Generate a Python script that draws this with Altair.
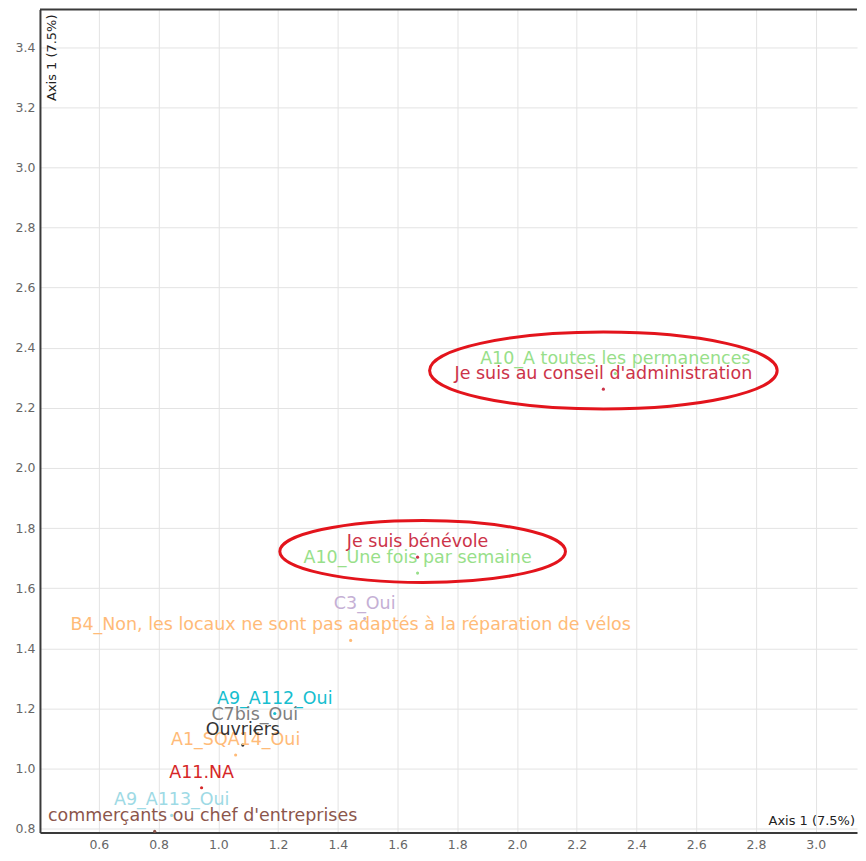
import altair as alt
import pandas as pd

# ---- data ----
labels = [
    "A10_A toutes les permanences",
    "Je suis au conseil d'administration",
    "Je suis bénévole",
    "A10_Une fois par semaine",
    "C3_Oui",
    "B4_Non, les locaux ne sont pas adaptés à la réparation de vélos",
    "A9_A112_Oui",
    "C7bis_Oui",
    "A1_SQA14_Oui",
    "Ouvriers",
    "A11.NA",
    "A9_A113_Oui",
    "commerçants ou chef d'entreprises",
]
xs = [2.329, 2.289, 1.667, 1.667, 1.490, 1.443, 1.189, 1.122, 1.058, 1.082, 0.944, 0.844, 0.787]
ys = [2.314, 2.262, 1.703, 1.650, 1.499, 1.426, 1.183, 1.127, 1.045, 1.078, 0.936, 0.844, 0.791]
colors = ["#98df8a", "#cc3349", "#cc3349", "#98df8a", "#c5b0d5", "#ffbb78",
          "#17becf", "#7f7f7f", "#ffbb78", "#333333", "#d62728", "#9edae5", "#8c564b"]
left_pinned = [False] * 12 + [True]

# highlighted groups (ellipse centres, in data units, and their pixel sizes)
ell_x = [2.289, 1.684]
ell_y = [2.324, 1.722]
ell_w = [348, 286]
ell_ratio = [0.221, 0.217]

x_ticks = [0.6, 0.8, 1.0, 1.2, 1.4, 1.6, 1.8, 2.0, 2.2, 2.4, 2.6, 2.8, 3.0]
y_ticks = [0.8, 1.0, 1.2, 1.4, 1.6, 1.8, 2.0, 2.2, 2.4, 2.6, 2.8, 3.0, 3.2, 3.4]
x_dom = [0.403, 3.138]
y_dom = [0.787, 3.525]
axis_title = "Axis 1 (7.5%)"

W, H = 818, 824
FONT = "DejaVu Sans"

df = pd.DataFrame({"label": labels, "x": xs, "y": ys, "color": colors, "pinned": left_pinned})

xs_enc = alt.X("x:Q", scale=alt.Scale(domain=x_dom, nice=False, zero=False),
               axis=alt.Axis(values=x_ticks, format=".1f", title=None, tickSize=0,
                             labelPadding=6, labelFontSize=12.5, labelColor="#666",
                             labelFont=FONT, domainColor="#3a3a3a", domainWidth=2,
                             gridColor="#e3e3e3", grid=True, minExtent=16, maxExtent=16))
ys_enc = alt.Y("y:Q", scale=alt.Scale(domain=y_dom, nice=False, zero=False),
               axis=alt.Axis(values=y_ticks, format=".1f", title=None, tickSize=0,
                             labelPadding=5, labelFontSize=12.5, labelColor="#666",
                             labelFont=FONT, domainColor="#3a3a3a", domainWidth=2,
                             gridColor="#e3e3e3", grid=True, minExtent=32, maxExtent=32))

base = alt.Chart(df)

points = base.mark_circle(size=10, opacity=1).encode(
    x=xs_enc, y=ys_enc, color=alt.Color("color:N", scale=None)
)

text_c = base.transform_filter("!datum.pinned").mark_text(
    font=FONT, fontSize=17.5, dy=-15, align="center", baseline="middle"
).encode(x="x:Q", y="y:Q", text="label:N", color=alt.Color("color:N", scale=None))

text_l = base.transform_filter("datum.pinned").mark_text(
    font=FONT, fontSize=17.5, dy=-15, align="left", baseline="middle"
).encode(x=alt.value(8), y="y:Q", text="label:N", color=alt.Color("color:N", scale=None))


def ellipse_path(r, k=0.5523):
    kr = k * r
    return (f"M 1 0 C 1 {kr:.4f} {k} {r} 0 {r} C {-k} {r} -1 {kr:.4f} -1 0 "
            f"C -1 {-kr:.4f} {-k} {-r} 0 {-r} C {k} {-r} 1 {-kr:.4f} 1 0 Z")


ell_layers = []
for cx, cy, w, r in zip(ell_x, ell_y, ell_w, ell_ratio):
    edf = pd.DataFrame({"x": [cx], "y": [cy]})
    ell_layers.append(
        alt.Chart(edf).mark_point(shape=ellipse_path(r), size=w * w, filled=False,
                                  stroke="#e3141c", strokeWidth=3, opacity=1)
        .encode(x="x:Q", y="y:Q")
    )

one = alt.Chart(pd.DataFrame({"t": [axis_title]}))
top_border = one.mark_rule(color="#3a3a3a", strokeWidth=2).encode(
    x=alt.value(0), x2=alt.value(W), y=alt.value(0)
)
title_v = one.mark_text(font=FONT, fontSize=13, angle=270, align="right",
                        baseline="middle", color="#222").encode(
    x=alt.value(12), y=alt.value(5), text="t:N")
title_h = one.mark_text(font=FONT, fontSize=13, align="right",
                        baseline="middle", color="#222").encode(
    x=alt.value(W - 2), y=alt.value(H - 12), text="t:N")

chart = alt.layer(
    points, *ell_layers, text_c, text_l, top_border, title_v, title_h
).properties(
    width=W, height=H, padding=0
).configure_view(strokeWidth=0)

chart.save("out.html", embed_options={"renderer": "svg", "actions": False})
